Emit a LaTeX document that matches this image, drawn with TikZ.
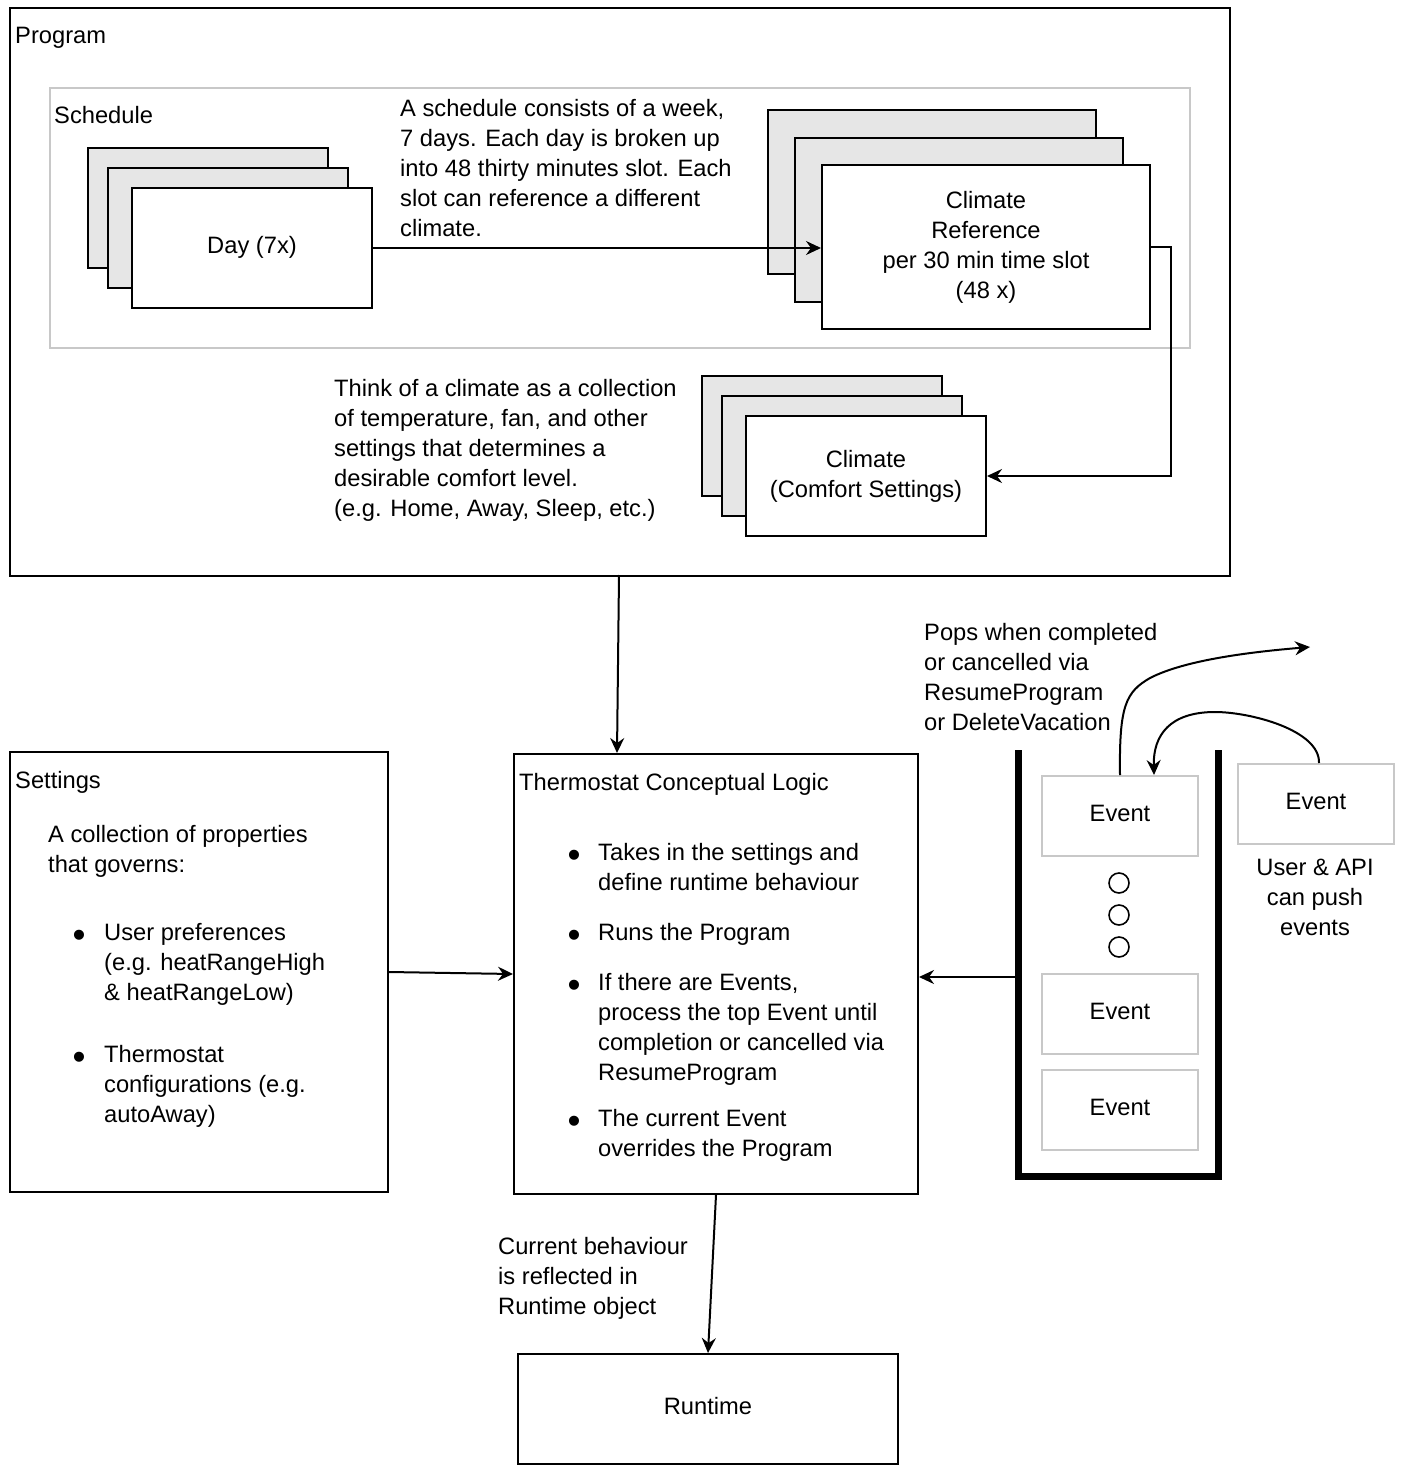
\documentclass[tikz,border=0pt]{standalone}
\usepackage{fontspec}
\setmainfont{Liberation Sans}
\usetikzlibrary{arrows.meta,calc}
\definecolor{lgray}{HTML}{C8C8C8}
\definecolor{sgray}{HTML}{E6E6E6}
\newcommand\fs{\fontsize{23.7}{30}\selectfont}
\newcommand\fstrut{\rule{0pt}{22pt}}
\begin{document}
\begin{tikzpicture}[x=1pt,y=-1pt,
  box/.style={draw=black, line width=2pt, fill=white, anchor=north west, inner sep=0pt, font=\fs, align=center},
  one/.style={text height=17pt, text depth=6pt},
  back/.style={box, fill=sgray},
  gbox/.style={box, draw=lgray},
  txt/.style={anchor=north west, inner sep=0pt, align=left, font=\fs, execute at begin node=\fstrut},
  ml/.style={yshift=-5pt},
  ctxt/.style={anchor=north, inner sep=0pt, align=center, font=\fs, execute at begin node=\fstrut},
  bul/.style={anchor=base west, inner sep=0pt, font=\fontsize{37}{37}\selectfont},
  arr/.style={line width=2pt, -{Stealth[length=15pt,width=14pt,inset=5pt]}},
  dot/.style={circle, draw=black, line width=1.6pt, minimum size=20pt, inner sep=0pt}]
\useasboundingbox (0,0) rectangle (1404,1474);
% Program
\node[box, minimum width=1220, minimum height=568] (program) at (9,7) {};
\node[txt] (progl) at (15,21) {Program};
% Schedule
\node[gbox, minimum width=1140, minimum height=260] (schedule) at (49,87) {};
\node[txt] (schedl) at (54,101) {Schedule};
% Day stack
\node[back, minimum width=240, minimum height=120] (dayb) at (87,147) {};
\node[back, minimum width=240, minimum height=120] (daym) at (107,167) {};
\node[box, one, minimum width=240, minimum height=120] (day) at (131,187) {Day (7x)};
\node[txt, ml] (schednote) at (400,94) {A schedule consists of a week,\\7 days. Each day is broken up\\into 48 thirty minutes slot. Each\\slot can reference a different\\climate.};
% Climate reference stack
\node[back, minimum width=328, minimum height=164] (crefb) at (767,109) {};
\node[back, minimum width=328, minimum height=164] (crefm) at (794,137) {};
\node[box, minimum width=328, minimum height=164] (cref) at (821,164) {Climate\\Reference\\per 30 min time slot\\(48 x)};
% Climate stack
\node[back, minimum width=240, minimum height=120] (climb) at (701,375) {};
\node[back, minimum width=240, minimum height=120] (climm) at (721,395) {};
\node[box, minimum width=240, minimum height=120] (clim) at (745,415) {Climate\\(Comfort Settings)};
\node[txt, ml] (climnote) at (334,374) {Think of a climate as a collection\\of temperature, fan, and other\\settings that determines a\\desirable comfort level.\\(e.g. Home, Away, Sleep, etc.)};
% connectors in program
\draw[arr] (day.east) -- (day.east -| cref.west);
\draw[arr] (cref.east) -- ++(20,0) |- (clim.east);
% Settings
\node[box, minimum width=378, minimum height=440] (settings) at (9,751) {};
\node[txt] (setl) at (15,766) {Settings};
\node[txt, ml] (setd) at (48,820) {A collection of properties\\that governs:};
\node[bul] (sb1) at (72.5,947.4) {•};
\node[txt, ml] (st1) at (104,918) {User preferences\\(e.g. heatRangeHigh\\\& heatRangeLow)};
\node[bul] (sb2) at (72.5,1069.4) {•};
\node[txt, ml] (st2) at (104,1040) {Thermostat\\configurations (e.g.\\autoAway)};
% TCL
\node[box, minimum width=404, minimum height=440] (tcl) at (513,753) {};
\node[txt] (tcll) at (519,768) {Thermostat Conceptual Logic};
\node[bul] (tb1) at (567.5,867.4) {•};
\node[txt, ml] (tt1) at (598,838) {Takes in the settings and\\define runtime behaviour};
\node[bul] (tb2) at (567.5,947.4) {•};
\node[txt] (tt2) at (598,918) {Runs the Program};
\node[bul] (tb3) at (567.5,997.4) {•};
\node[txt, ml] (tt3) at (598,968) {If there are Events,\\process the top Event until\\completion or cancelled via\\ResumeProgram};
\node[bul] (tb4) at (567.5,1133.4) {•};
\node[txt, ml] (tt4) at (598,1104) {The current Event\\overrides the Program};
% Queue
\draw[line width=7pt] (1018,750) -- (1018,1176) -- (1218,1176) -- (1218,750);
\coordinate (qin) at (1014.5,977);
\node[gbox, one, minimum width=156, minimum height=80] (ev1) at (1041,775) {Event};
\node[dot] (d1) at (1119,883) {};
\node[dot] (d2) at (1119,915) {};
\node[dot] (d3) at (1119,947) {};
\node[gbox, one, minimum width=156, minimum height=80] (ev2) at (1041,973) {Event};
\node[gbox, one, minimum width=156, minimum height=80] (ev3) at (1041,1069) {Event};
\node[gbox, one, minimum width=156, minimum height=80] (evx) at (1237,763) {Event};
\node[ctxt, ml] (userapi) at (1315,854) {User \& API\\can push\\events};
\node[txt, ml] (pops) at (924,618) {Pops when completed\\or cancelled via\\ResumeProgram\\or DeleteVacation};
\coordinate (popend) at (1310,647);
\coordinate (pushend) at ($(ev1.north)+(34,0)$);
\draw[arr] (ev1.north) .. controls (1119,705) and (1126,692) .. (1150,678) .. controls (1185,660) and (1250,652) .. (popend);
\draw[arr] ($(evx.north)+(3,0)$) .. controls (1320,730) and (1250,712) .. (1215,712) .. controls (1170,712) and (1153,735) .. (pushend);
% Runtime
\node[box, one, minimum width=380, minimum height=110] (runtime) at (517,1353) {Runtime};
\node[txt, ml] (curb) at (498,1232) {Current behaviour\\is reflected in\\Runtime object};
% main connectors
\coordinate (pgout) at (619,575);
\coordinate (tclin) at (617,753);
\draw[arr] (pgout) -- (tclin);
\draw[arr] (settings.east) -- (tcl.west);
\draw[arr] (qin) -- (qin -| tcl.east);
\draw[arr] (tcl.south) -- (runtime.north);
\end{tikzpicture}
\end{document}
